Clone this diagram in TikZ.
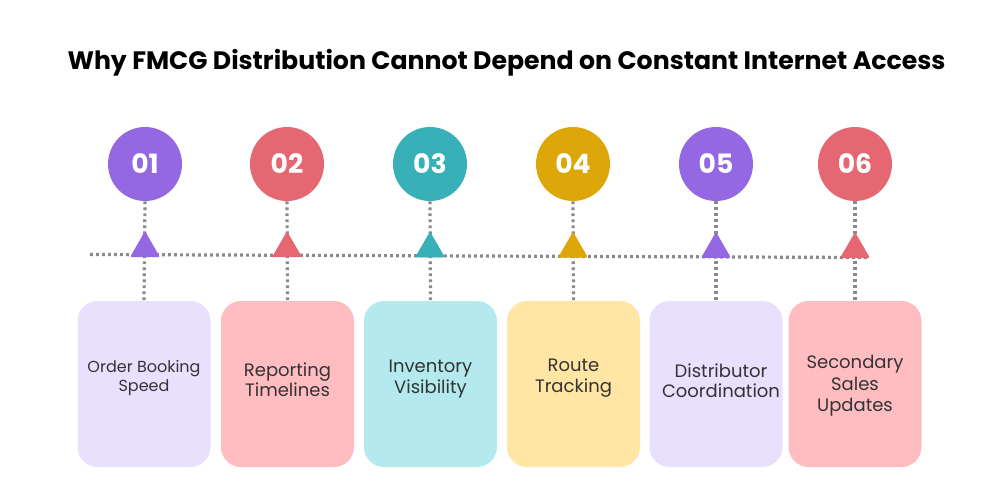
\documentclass[tikz,border=0pt]{standalone}
\usepackage{fontspec}
\setmainfont{Poppins}
\usetikzlibrary{shapes.geometric}
\definecolor{cpurple}{HTML}{9467E3}
\definecolor{cred}{HTML}{E56771}
\definecolor{cteal}{HTML}{38B0B7}
\definecolor{cgold}{HTML}{DEA709}
\definecolor{fpurple}{HTML}{E9E0FE}
\definecolor{fred}{HTML}{FFBDC2}
\definecolor{fteal}{HTML}{B4EAEE}
\definecolor{fgold}{HTML}{FFE6A5}
\definecolor{dotgray}{HTML}{8A8A8A}
\definecolor{txt}{HTML}{333333}
\tikzset{
  numcircle/.style={circle, minimum size=74*0.75pt, inner sep=0pt, text=white, font=\fontsize{20}{24}\selectfont\bfseries},
  card/.style={rounded corners=15pt, minimum width=133*0.75pt, minimum height=166*0.75pt, inner sep=0pt, text=txt, align=center, font=\fontsize{13.5}{15.8}\selectfont},
  dotline/.style={draw=dotgray, line width=2.4pt, dash pattern=on 2.2pt off 2.3pt},
  marker/.style={regular polygon, regular polygon sides=3, minimum size=34.6*0.75pt, inner sep=0pt, rounded corners=1.5pt},
}
\begin{document}
\begin{tikzpicture}[x=0.75pt,y=-0.75pt]
\useasboundingbox (0,0) rectangle (1000,500);
\fill[white] (0,0) rectangle (1000,500);
\node[font=\fontsize{18.9}{22}\selectfont\bfseries, text=black] (title) at (506.5,63) {Why FMCG Distribution Cannot Depend on Constant Internet Access};
% circles
\node[numcircle, fill=cpurple] (c1) at (145,164) {01};
\node[numcircle, fill=cred]    (c2) at (287,164) {02};
\node[numcircle, fill=cteal]   (c3) at (430,164) {03};
\node[numcircle, fill=cgold]   (c4) at (573,164) {04};
\node[numcircle, fill=cpurple] (c5) at (716,164) {05};
\node[numcircle, fill=cred]    (c6) at (855,164) {06};
% cards
\node[card, fill=fpurple] (b1) at (144,384) {};
\node[card, fill=fred]    (b2) at (287.5,384) {};
\node[card, fill=fteal]   (b3) at (430.5,384) {};
\node[card, fill=fgold]   (b4) at (573.5,384) {};
\node[card, fill=fpurple] (b5) at (716,384) {};
\node[card, fill=fred]    (b6) at (855,384) {};
\node[text=txt, align=center, font=\fontsize{12}{13.6}\selectfont] (l1) at (144,378) {Order Booking\\Speed};
\node[text=txt, align=center, font=\fontsize{13.5}{15.3}\selectfont] (l2) at (287.5,380) {Reporting\\Timelines};
\node[text=txt, align=center, font=\fontsize{13.5}{15.3}\selectfont] (l3) at (430.5,379) {Inventory\\Visibility};
\node[text=txt, align=center, font=\fontsize{13.5}{15.3}\selectfont] (l4) at (573.5,378) {Route\\Tracking};
\node[text=txt, align=center, font=\fontsize{13.5}{15.3}\selectfont] (l5) at (721,381) {Distributor\\Coordination};
\node[text=txt, align=center, font=\fontsize{13.5}{16}\selectfont] (l6) at (855,386) {Secondary\\Sales\\Updates};
% lines
\coordinate (L) at (90,254.5);
\coordinate (R) at (868,257.5);
\draw[dotline] (L) -- (R);
\foreach \i in {1,...,6} {\draw[dotline] (c\i.south) -- (b\i.north);}
% markers
\node[marker, fill=cpurple] (t1) at (145,248.5) {};
\node[marker, fill=cred]    (t2) at (287,248.5) {};
\node[marker, fill=cteal]   (t3) at (430,248.8) {};
\node[marker, fill=cgold]   (t4) at (573,249) {};
\node[marker, fill=cpurple] (t5) at (716,249.2) {};
\node[marker, fill=cred]    (t6) at (855,249.4) {};
\end{tikzpicture}
\end{document}
